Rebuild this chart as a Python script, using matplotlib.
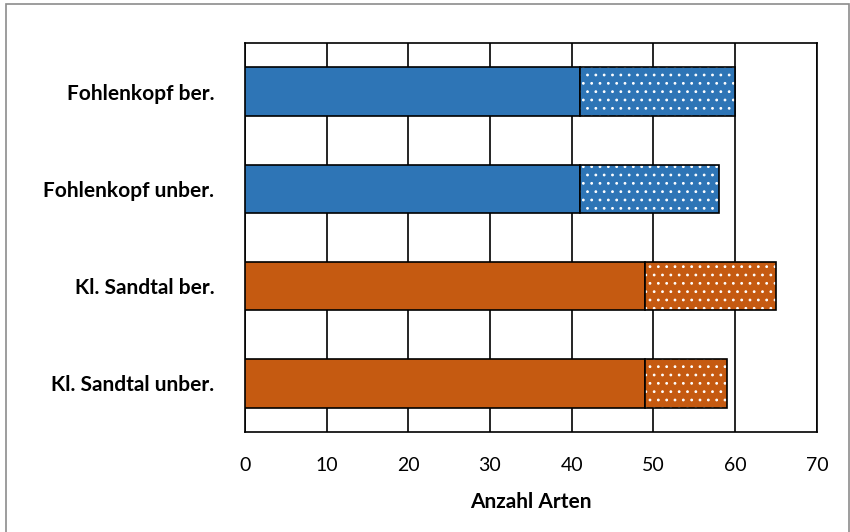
import matplotlib
matplotlib.use("Agg")
import matplotlib.pyplot as plt
from matplotlib.patches import Rectangle

plt.rcParams['font.family'] = ['Lato', 'DejaVu Sans']
plt.rcParams['hatch.linewidth'] = 0.8

# Daten
kategorien = ['Fohlenkopf ber.', 'Fohlenkopf unber.', 'Kl. Sandtal ber.', 'Kl. Sandtal unber.']
teil_voll = [41, 41, 49, 49]
teil_punkt = [19, 17, 16, 10]
farben = ['#2E75B6', '#2E75B6', '#C55A11', '#C55A11']
x_ticks = [0, 10, 20, 30, 40, 50, 60, 70]

fig = plt.figure(figsize=(8.5, 5.32), dpi=100)
ax = fig.add_axes([0.288, 0.188, 0.673, 0.731])

# Rahmen um die ganze Grafik
fig.patches.append(Rectangle((6/850, -0.01), 843/850, 1 - 4/532 + 0.01, transform=fig.transFigure,
                             fill=False, edgecolor='#8c8c8c', linewidth=1.2))

y = list(range(len(kategorien)))
ax.barh(y, teil_voll, height=0.5, color=farben, edgecolor='black', linewidth=1.2, zorder=3)
# gepunkteter Teil: erst Punkte in weiss, dann schwarzer Rand
ax.barh(y, teil_punkt, left=teil_voll, height=0.5, color=farben, edgecolor='white',
        hatch='..', linewidth=0, zorder=3)
ax.barh(y, teil_punkt, left=teil_voll, height=0.5, fill=False, edgecolor='black',
        linewidth=1.2, zorder=4)

ax.set_xlim(0, 70)
ax.set_ylim(3.5, -0.5)
ax.set_xticks(x_ticks)
ax.set_xticklabels([str(v) for v in x_ticks], fontsize=14)
ax.set_yticks(y)
ax.set_yticklabels(kategorien, fontsize=15, fontweight='bold')
ax.tick_params(axis='y', length=0, pad=22)
ax.tick_params(axis='x', length=0, pad=18)
ax.grid(axis='x', color='black', linewidth=1.2, zorder=0)
for s in ax.spines.values():
    s.set_color('black')
    s.set_linewidth(1.2)
ax.set_xlabel('Anzahl Arten', fontsize=15, fontweight='bold', labelpad=13)

fig.savefig('out.png', dpi=100)
